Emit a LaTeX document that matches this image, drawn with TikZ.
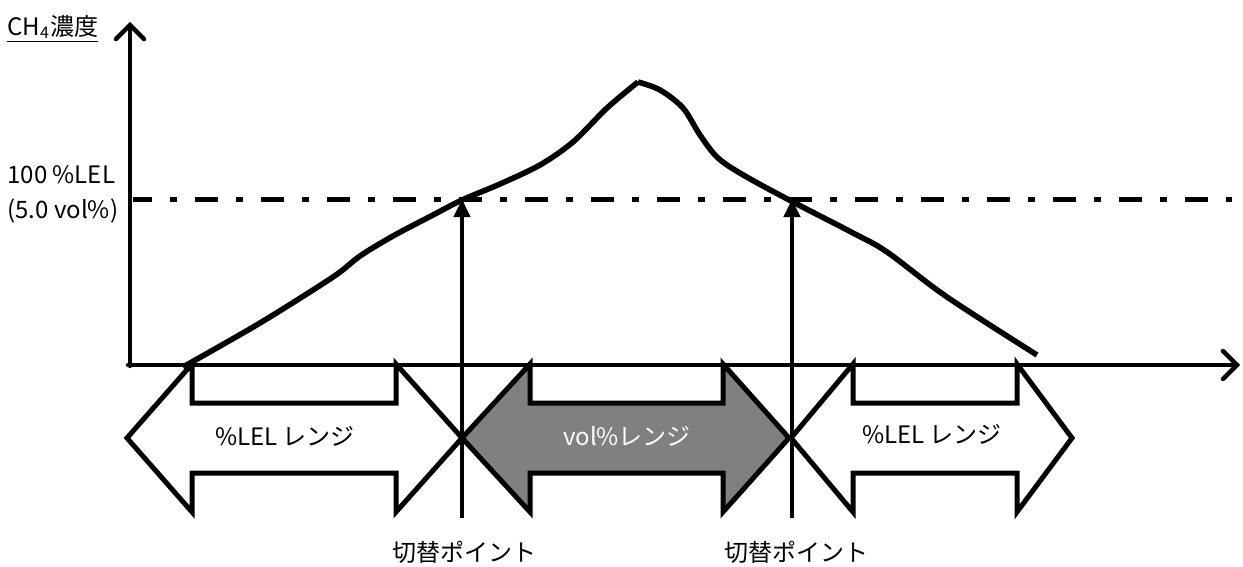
\documentclass[tikz,border=0pt]{standalone}
\usepackage{fontspec}
\setmainfont{Noto Sans CJK JP}
\usetikzlibrary{arrows.meta}
\tikzset{
  axisline/.style={line width=2.2pt, -{Straight Barb[length=7pt,width=14pt,line cap=round]}, line cap=round},
  curveline/.style={line width=2.8pt, line join=round},
  refline/.style={line width=2.5pt, dash pattern=on 11.5pt off 9pt on 3.5pt off 9pt, dash phase=2pt},
  rangearrow/.style={line width=2.5pt, line join=miter},
  switcharrow/.style={line width=2.2pt, -{Triangle[length=9pt,width=8pt]}},
  lbl/.style={font=\fontsize{12pt}{14pt}\selectfont, inner sep=0pt},
}
\begin{document}
\begin{tikzpicture}[x=0.5pt,y=-0.5pt]
\useasboundingbox (0,0) rectangle (1243,567);
% range arrows
\draw[rangearrow, fill=white] (127,438) -- (192,364) -- (192,403) -- (396,403) -- (396,364) -- (462,438) -- (396,512) -- (396,473) -- (192,473) -- (192,512) -- cycle;
\draw[rangearrow, fill=black!50] (462,438) -- (530,364) -- (530,403) -- (723,403) -- (723,364) -- (789,438) -- (723,512) -- (723,473) -- (530,473) -- (530,512) -- cycle;
\draw[rangearrow, fill=white] (791,438) -- (853,364) -- (853,403) -- (1017,403) -- (1017,364) -- (1072,438) -- (1017,512) -- (1017,473) -- (853,473) -- (853,512) -- cycle;
% axes
\coordinate (origin) at (130,366);
\coordinate (ytop) at (130,22);
\coordinate (xend) at (1240,365);
\coordinate (xstart) at (128,365);
\draw[axisline] (xstart) -- (xend);
\draw[axisline] (origin) -- (ytop);
% reference line
\coordinate (refstart) at (133,200);
\coordinate (refend) at (1232,200);
\draw[refline] (refstart) -- (refend);
% curve
\draw[curveline] plot[smooth, tension=0.5] coordinates {(183,367) (260,323) (333,277) (360,256) (393,236) (433,215) (462,200) (500,184) (540,165) (573,142) (607,108) (638,82)};
\draw[curveline] plot[smooth, tension=0.55] coordinates {(638,82) (660,90) (683,108) (700,135) (718,158) (745,176) (793,202) (853,233) (887,252) (947,297) (1037,355)};
% switch point arrows
\coordinate (s1b) at (462,518);
\coordinate (s1t) at (462,199);
\coordinate (s2b) at (792,518);
\coordinate (s2t) at (792,199);
\draw[switcharrow] (s1b) -- (s1t);
\draw[switcharrow] (s2b) -- (s2t);
% labels
\node[lbl, anchor=west] (ylab) at (7,29) {\underline{CH\textsubscript{4}濃度}};
\node[lbl, anchor=west] (lel100) at (7,175) {100 \%LEL};
\node[lbl, anchor=west] (vol5) at (7,211) {(5.0 vol\%)};
\node[lbl] (r1) at (285,436) {\%LEL レンジ};
\node[lbl, text=white] (r2) at (627,436) {vol\%レンジ};
\node[lbl] (r3) at (932,434) {\%LEL レンジ};
\node[lbl] (p1) at (464,552) {切替ポイント};
\node[lbl] (p2) at (796,552) {切替ポイント};
\end{tikzpicture}
\end{document}
